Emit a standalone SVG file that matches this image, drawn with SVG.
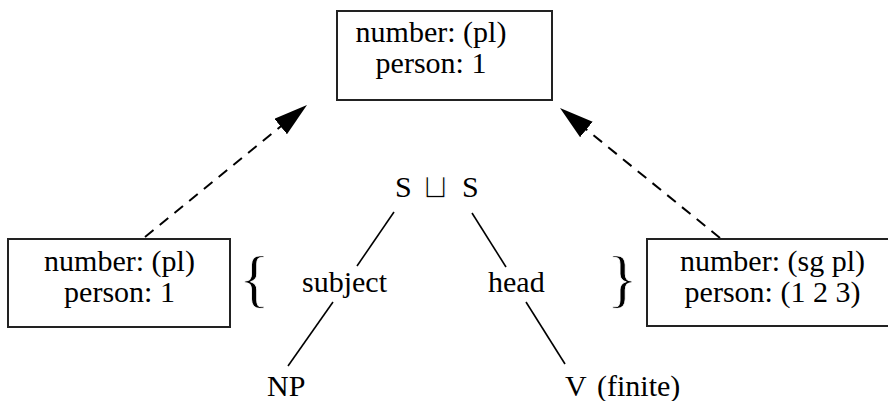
<svg xmlns="http://www.w3.org/2000/svg" width="888" height="401" viewBox="0 0 888 401">
  <style>
    .box { fill: #ffffff; stroke: #222222; stroke-width: 2; }
    .t { font-family: "Liberation Serif", "Times New Roman", serif; font-size: 30px; fill: #000000; }
    .mid { text-anchor: middle; }
    .brace { font-family: "Liberation Serif", "Times New Roman", serif; font-size: 64px; fill: #000000; stroke: #ffffff; stroke-width: 0.8; paint-order: fill; }
    .edge { stroke: #000000; stroke-width: 1.6; fill: none; }
    .dash { stroke: #000000; stroke-width: 2; fill: none; stroke-dasharray: 11 8; }
    .op { font-family: "DejaVu Sans", sans-serif; font-size: 34px; fill: #000000; stroke: #ffffff; stroke-width: 1.3; paint-order: fill; }
  </style>
  <defs>
    <marker id="arrow" markerUnits="userSpaceOnUse" markerWidth="36" markerHeight="22" refX="34" refY="10" orient="auto">
      <path d="M0,0 L34,10 L0,20 Z" fill="#000000"/>
    </marker>
  </defs>

  <g id="connectors">
    <line class="dash" x1="145" y1="237" x2="307" y2="105" marker-end="url(#arrow)"/>
    <line class="dash" x1="720" y1="238" x2="560" y2="108" marker-end="url(#arrow)"/>
    <line class="edge" x1="394" y1="212" x2="357" y2="266"/>
    <line class="edge" x1="333" y1="302" x2="288" y2="366"/>
    <line class="edge" x1="472" y1="213" x2="506" y2="267"/>
    <line class="edge" x1="526" y1="302" x2="565" y2="364"/>
  </g>

  <g id="top-box">
    <rect class="box" x="337" y="11" width="215" height="89"/>
    <text class="t mid" x="431" y="42">number: (pl)</text>
    <text class="t mid" x="431" y="73">person: 1</text>
  </g>

  <g id="left-box">
    <rect class="box" x="8" y="239" width="222" height="88"/>
    <text class="t mid" x="119.5" y="271">number: (pl)</text>
    <text class="t mid" x="119.5" y="302">person: 1</text>
  </g>

  <g id="right-box">
    <rect class="box" x="647" y="239" width="260" height="87"/>
    <text class="t mid" x="772.5" y="271">number: (sg pl)</text>
    <text class="t mid" x="772.5" y="302">person: (1 2 3)</text>
  </g>

  <g id="root">
    <text class="t" x="395" y="197">S</text>
    <text class="op" x="422" y="198">⊔</text>
    <text class="t" x="462" y="197">S</text>
  </g>

  <g id="left-brace">
    <text class="brace" x="239" y="300">{</text>
  </g>
  <g id="right-brace">
    <text class="brace" x="607" y="300">}</text>
  </g>

  <g id="label-subject">
    <text class="t" x="302" y="292">subject</text>
  </g>
  <g id="label-head">
    <text class="t" x="488" y="292">head</text>
  </g>

  <g id="np">
    <text class="t" x="267" y="396">NP</text>
  </g>
  <g id="v">
    <text class="t" x="565" y="396">V<tspan x="597">(finite)</tspan></text>
  </g>
</svg>
